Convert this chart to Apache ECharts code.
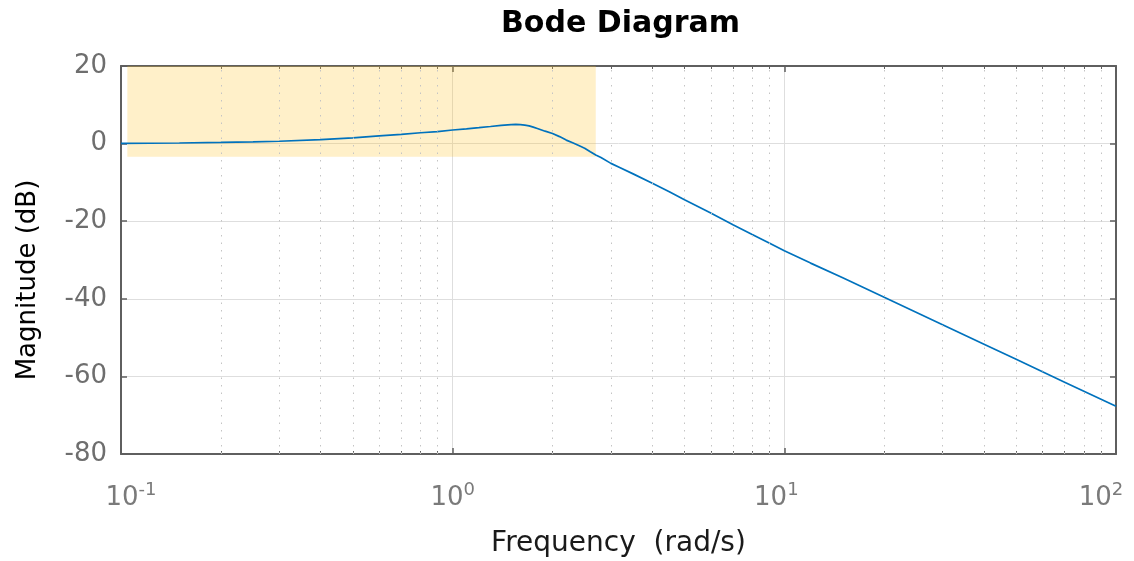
<!DOCTYPE html>
<html>
<head>
<meta charset="utf-8">
<title>Bode Diagram</title>
<script src="https://cdn.jsdelivr.net/npm/echarts@6/dist/echarts.min.js"></script>
<style>
  html, body { margin: 0; padding: 0; background: #fff; }
  #main { width: 1134px; height: 561px; }
</style>
</head>
<body>
<div id="main"></div>
<script>
// magnitude curve: frequency (rad/s) / magnitude (dB)
var freq = [0.1, 0.15, 0.2, 0.25, 0.3, 0.4, 0.5, 0.6, 0.7, 0.8, 0.9, 1.0, 1.1, 1.2, 1.3, 1.4, 1.5, 1.55, 1.6, 1.65, 1.7, 1.75, 1.8, 1.9, 2.0, 2.1, 2.2, 2.3, 2.4, 2.5, 2.6, 2.7, 2.8, 3, 3.2, 3.5, 4, 4.5, 5, 6, 7, 8, 9, 10, 12, 15, 20, 30, 40, 50, 70, 100];
var mag = [0.05, 0.15, 0.3, 0.45, 0.6, 1.0, 1.5, 2.0, 2.4, 2.8, 3.1, 3.5, 3.8, 4.1, 4.4, 4.7, 4.9, 4.93, 4.88, 4.75, 4.58, 4.25, 3.9, 3.2, 2.6, 1.8, 0.9, 0.2, -0.5, -1.2, -2.1, -2.95, -3.6, -5.1, -6.2, -7.8, -10.2, -12.4, -14.5, -17.9, -20.9, -23.4, -25.6, -27.6, -30.8, -34.6, -39.6, -46.7, -51.7, -55.6, -61.5, -67.7];

// minor log grid positions
var minorFreq = [0.2, 0.3, 0.4, 0.5, 0.6, 0.7, 0.8, 0.9, 2, 3, 4, 5, 6, 7, 8, 9, 20, 30, 40, 50, 60, 70, 80, 90];

// shaded bandwidth patch
var bandFreq = [0.1045, 2.7];
var bandMag = [20, -3.4];

var font = 'DejaVu Sans, Liberation Sans, Arial, sans-serif';
var axisColor = '#5f5f5f';
var tickGrey = '#7a7a7a';

var myChart = echarts.init(document.getElementById('main'));

var points = [];
for (var i = 0; i < freq.length; i++) {
    points.push([freq[i], mag[i]]);
}

function logAxis(pos, extra) {
    var a = {
        type: 'log',
        logBase: 10,
        min: 0.1,
        max: 100,
        position: pos,
        axisLine: {show: true, onZero: false, lineStyle: {color: axisColor, width: 2}},
        axisTick: {show: true, inside: true, length: 6, lineStyle: {color: axisColor, width: 1.5}},
        axisLabel: {show: false},
        splitLine: {show: false},
        minorTick: {show: false}
    };
    for (var k in extra) a[k] = extra[k];
    return a;
}

// 10^n labels, nudged sideways like the original
function decadeLabel(val) {
    var e = Math.round(Math.log(val) / Math.LN10);
    if (e <= -1) return '{bl|10}{e|' + e + '}';
    if (e === 1) return '{b|10}{e1|' + e + '}';
    if (e >= 2) return '{b|10}{e2|' + e + '}';
    return '{b|10}{e|' + e + '}';
}

var baseStyle = {fontFamily: font, fontSize: 26, color: tickGrey, lineHeight: 30, verticalAlign: 'bottom'};
var supStyle = {fontFamily: font, fontSize: 18, color: tickGrey, lineHeight: 30, verticalAlign: 'top'};

var option = {
    animation: false,
    title: {
        text: 'Bode Diagram',
        left: 496,
        top: 4,
        textStyle: {fontFamily: font, fontSize: 30, fontWeight: 'bold', color: '#000'}
    },
    grid: {left: 121, right: 18, top: 66, bottom: 107, containLabel: false, outerBoundsMode: 'none'},
    xAxis: [
        logAxis('bottom', {
            name: 'Frequency  (rad/s)',
            nameLocation: 'middle',
            nameGap: 76,
            nameTextStyle: {fontFamily: font, fontSize: 28, color: '#1a1a1a'},
            axisLabel: {
                show: true,
                margin: 27,
                formatter: decadeLabel,
                rich: {
                    b: baseStyle,
                    bl: echarts.util.extend({padding: [0, 0, 0, 20]}, baseStyle),
                    e: supStyle,
                    e1: echarts.util.extend({padding: [0, 16, 0, 0]}, supStyle),
                    e2: echarts.util.extend({padding: [0, 30, 0, 0]}, supStyle)
                }
            },
            splitLine: {show: true, lineStyle: {color: '#dedede', width: 1}}
        }),
        logAxis('bottom', {
            axisLine: {show: false, onZero: false},
            axisTick: {show: true, inside: true, length: 3, customValues: minorFreq, lineStyle: {color: axisColor, width: 1}}
        }),
        logAxis('top', {}),
        logAxis('top', {
            axisLine: {show: false, onZero: false},
            axisTick: {show: true, inside: true, length: 3, customValues: minorFreq, lineStyle: {color: axisColor, width: 1}}
        })
    ],
    yAxis: [
        {
            type: 'value',
            min: -80,
            max: 20,
            interval: 20,
            position: 'left',
            name: 'Magnitude (dB)',
            nameLocation: 'middle',
            nameGap: 80,
            nameTextStyle: {fontFamily: font, fontSize: 26, color: '#000', padding: [0, 40, 0, 0]},
            axisLine: {show: true, onZero: false, lineStyle: {color: axisColor, width: 2}},
            axisTick: {show: true, inside: true, length: 6, lineStyle: {color: axisColor, width: 1.5}},
            axisLabel: {fontFamily: font, fontSize: 26, color: '#6e6e6e', margin: 14},
            splitLine: {show: true, lineStyle: {color: '#dedede', width: 1}}
        },
        {
            type: 'value',
            min: -80,
            max: 20,
            interval: 20,
            position: 'right',
            axisLine: {show: true, onZero: false, lineStyle: {color: axisColor, width: 2}},
            axisTick: {show: true, inside: true, length: 6, lineStyle: {color: axisColor, width: 1.5}},
            axisLabel: {show: false},
            splitLine: {show: false}
        }
    ],
    series: [
        {
            // dotted minor grid
            type: 'line',
            data: [],
            z: 1,
            markLine: {
                silent: true,
                animation: false,
                symbol: ['none', 'none'],
                label: {show: false},
                lineStyle: {color: '#c4c4c4', type: [1.5, 6], width: 1},
                data: minorFreq.map(function (f) { return {xAxis: f}; })
            }
        },
        {
            name: 'Magnitude',
            type: 'line',
            data: points,
            showSymbol: false,
            smooth: false,
            z: 3,
            lineStyle: {color: '#0072bd', width: 1.7}
        },
        {
            // bandwidth patch
            type: 'line',
            data: [],
            z: 5,
            markArea: {
                silent: true,
                animation: false,
                itemStyle: {color: 'rgba(255,195,40,0.25)'},
                data: [[
                    {xAxis: bandFreq[0], yAxis: bandMag[0]},
                    {xAxis: bandFreq[1], yAxis: bandMag[1]}
                ]]
            }
        }
    ]
};

myChart.setOption(option);

window.onresize = function () {
    myChart.resize();
};
</script>
</body>
</html>
